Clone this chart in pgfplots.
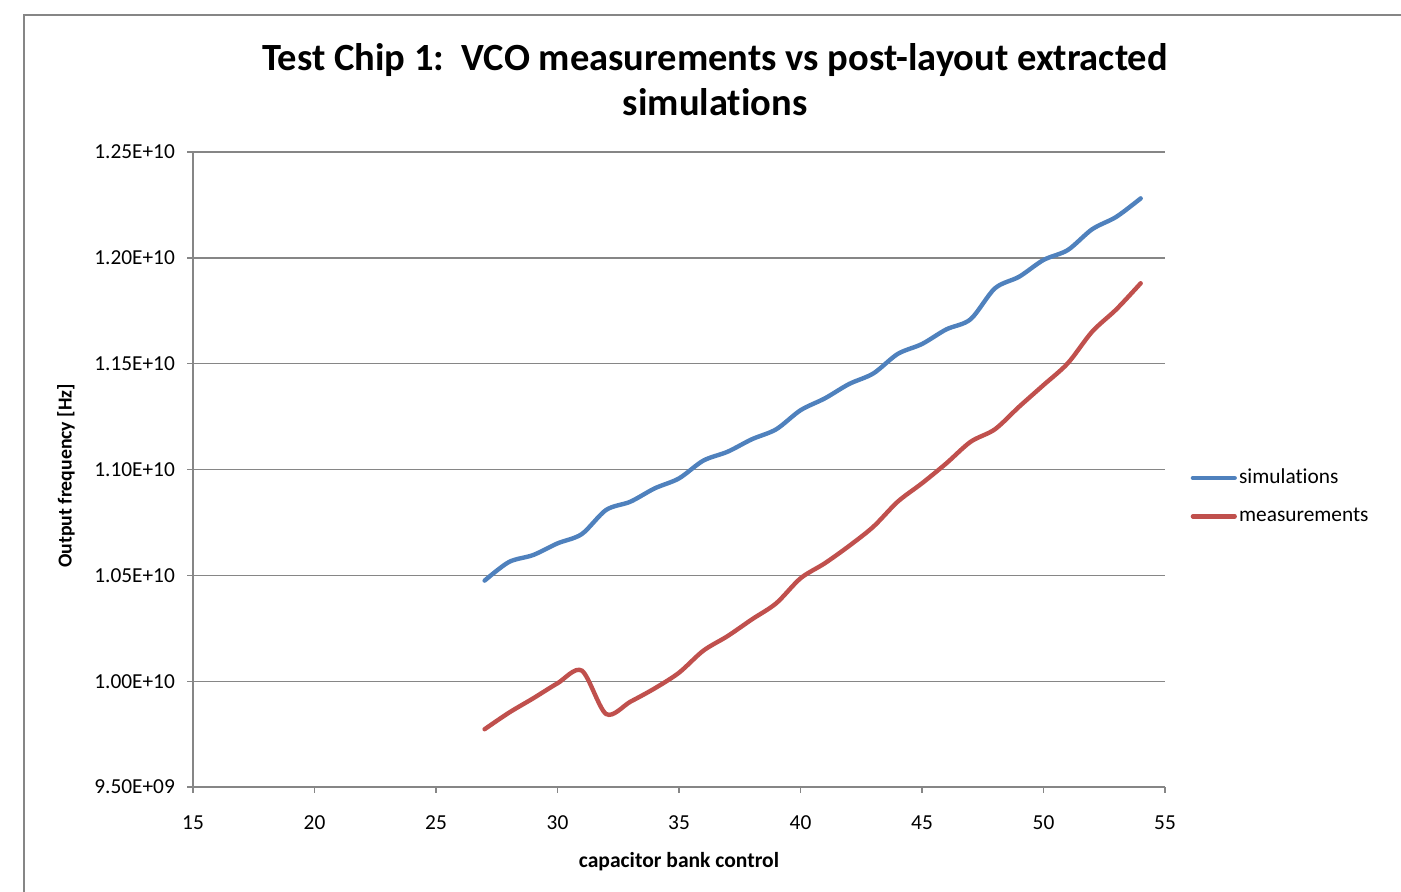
\documentclass[border=0pt]{standalone}
\usepackage{pgfplots}
\pgfplotsset{compat=1.18}
\usepackage{fontspec}
\setmainfont{Carlito}[Ligatures=NoCommon]
\definecolor{simblue}{RGB}{79,129,189}
\definecolor{measred}{RGB}{192,80,77}
\definecolor{gridgray}{RGB}{134,134,134}
\begin{document}
\begin{tikzpicture}
\path[use as bounding box] (0,0) rectangle (636.75pt,404.96pt);
\draw[gridgray, line width=0.9pt] (10.9pt,-5pt) -- (10.9pt,398.1pt) -- (645pt,398.1pt);
\node[font=\bfseries\fontsize{17.5}{20.5}\selectfont, align=center] at (325pt,368.8pt)
  {Test Chip 1:\ \ VCO measurements vs post-layout extracted\\simulations};
\begin{axis}[
  at={(87.72pt,47.27pt)}, anchor=south west,
  scale only axis, width=441.77pt, height=288.6pt,
  xmin=15, xmax=55, ymin=9.5e9, ymax=1.25e10,
  xtick={15,20,...,55},
  ytick={9.5e9,1.0e10,1.05e10,1.1e10,1.15e10,1.2e10,1.25e10},
  yticklabels={9.50E+09,1.00E+10,1.05E+10,1.10E+10,1.15E+10,1.20E+10,1.25E+10},
  scaled y ticks=false,
  /pgf/number format/assume math mode=true,
  axis x line*=bottom, axis y line*=left,
  axis line style={draw=gridgray, line width=0.6pt, -},
  tick align=outside, major tick length=2.7pt,
  tick style={draw=gridgray, line width=0.6pt},
  ymajorgrids, grid style={draw=gridgray, line width=0.6pt},
  tick label style={font=\fontsize{9.7}{12}\selectfont},
  yticklabel style={xshift=-2pt},
  xticklabel style={yshift=-7pt},
  xlabel={capacitor bank control},
  ylabel={Output frequency [Hz]},
  xlabel style={font=\bfseries\fontsize{9.8}{12}\selectfont, at={(axis description cs:0.5,-0.118)}, anchor=center},
  ylabel style={font=\bfseries\fontsize{9}{12}\selectfont, at={(axis description cs:-0.1307,0.49)}, anchor=center},
  legend style={at={(axis description cs:1.026,0.457)}, anchor=west, draw=none, fill=none,
    font=\fontsize{9.7}{12}\selectfont, row sep=7.5pt, inner sep=0pt,
    nodes={inner sep=1pt, anchor=west}},
  legend cell align=left,
  legend image code/.code={\draw[#1, line width=2pt, line cap=round] (0pt,0pt) -- (19pt,0pt);},
]
\addplot[simblue, line width=2pt, line cap=round, smooth, tension=0.5] coordinates {
(27,1.0475e10) (28,1.0563e10) (29,1.0596e10) (30,1.0651e10) (31,1.0695e10)
(32,1.0809e10) (33,1.0848e10) (34,1.0911e10) (35,1.0958e10) (36,1.1042e10)
(37,1.1084e10) (38,1.1143e10) (39,1.1190e10) (40,1.1280e10) (41,1.1336e10)
(42,1.1404e10) (43,1.1454e10) (44,1.1546e10) (45,1.1593e10) (46,1.1662e10)
(47,1.1710e10) (48,1.1856e10) (49,1.1911e10) (50,1.1990e10) (51,1.2037e10)
(52,1.2135e10) (53,1.2194e10) (54,1.2281e10)};
\addlegendentry{simulations}
\addplot[measred, line width=2pt, line cap=round, smooth, tension=0.5] coordinates {
(27,9.773e9) (28,9.851e9) (29,9.919e9) (30,9.990e9) (31,1.0050e10)
(32,9.845e9) (33,9.903e9) (34,9.966e9) (35,1.0040e10) (36,1.0144e10)
(37,1.0213e10) (38,1.0292e10) (39,1.0368e10) (40,1.0486e10) (41,1.0557e10)
(42,1.0639e10) (43,1.0730e10) (44,1.0848e10) (45,1.0935e10) (46,1.1029e10)
(47,1.1131e10) (48,1.1190e10) (49,1.1297e10) (50,1.1399e10) (51,1.1502e10)
(52,1.1651e10) (53,1.1757e10) (54,1.1880e10)};
\addlegendentry{measurements}
\end{axis}
\end{tikzpicture}
\end{document}
